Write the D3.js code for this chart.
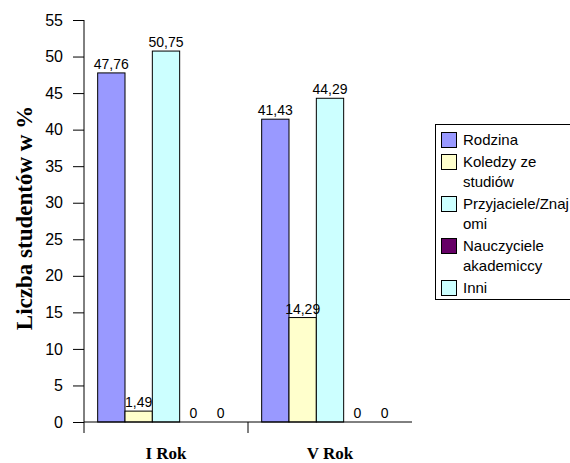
<!DOCTYPE html>
<html>
<head>
<meta charset="utf-8">
<script src="https://cdn.jsdelivr.net/npm/d3@7/dist/d3.min.js"></script>
<style>
  html, body { margin: 0; padding: 0; background: #fff; overflow: hidden; }
  svg { display: block; }
</style>
</head>
<body>
<svg id="chart" width="570" height="463"></svg>
<script>
// ---- data ----
const categories = ["I Rok", "V Rok"];
const seriesNames = ["Rodzina", "Koledzy ze studiów", "Przyjaciele/Znajomi", "Nauczyciele akademiccy", "Inni"];
const legendLines = [["Rodzina"], ["Koledzy ze", "studiów"], ["Przyjaciele/Znaj", "omi"], ["Nauczyciele", "akademiccy"], ["Inni"]];
const valuesRodzina = [47.76, 41.43];
const valuesKoledzy = [1.49, 14.29];
const valuesPrzyjaciele = [50.75, 44.29];
const valuesNauczyciele = [0, 0];
const valuesInni = [0, 0];
const seriesColors = ["#9999FF", "#FFFFCC", "#CCFFFF", "#660066", "#CCFFFF"];
const yTicks = [0, 5, 10, 15, 20, 25, 30, 35, 40, 45, 50, 55];
const labelTexts = [["47,76", "41,43"], ["1,49", "14,29"], ["50,75", "44,29"], ["0", "0"], ["0", "0"]];

const seriesValues = [valuesRodzina, valuesKoledzy, valuesPrzyjaciele, valuesNauczyciele, valuesInni];

// ---- layout ----
const svg = d3.select("#chart");
const plot = { left: 84, right: 412, top: 20, bottom: 422 };

const x0 = d3.scaleBand().domain(categories).range([plot.left, plot.right]).paddingInner(0).paddingOuter(0);
const x1 = d3.scaleBand().domain(d3.range(seriesNames.length)).range([0, x0.bandwidth()])
  .paddingInner(0).paddingOuter(0.5);
const y = d3.scaleLinear().domain([0, 55]).range([plot.bottom, plot.top]);

// bars
const rows = [];
seriesNames.forEach((s, si) => {
  categories.forEach((c, ci) => {
    rows.push({ si, ci, c, v: seriesValues[si][ci], label: labelTexts[si][ci] });
  });
});

svg.append("g").selectAll("rect")
  .data(rows.filter(d => d.v > 0))
  .join("rect")
  .attr("x", d => x0(d.c) + x1(d.si))
  .attr("y", d => y(d.v))
  .attr("width", x1.bandwidth())
  .attr("height", d => y(0) - y(d.v))
  .attr("fill", d => seriesColors[d.si])
  .attr("stroke", "#000")
  .attr("stroke-width", 1);

// data labels
svg.append("g").selectAll("text")
  .data(rows)
  .join("text")
  .attr("x", d => x0(d.c) + x1(d.si) + x1.bandwidth() / 2)
  .attr("y", d => y(d.v) - 4)
  .attr("text-anchor", "middle")
  .attr("font-family", "Liberation Sans, Arial, sans-serif")
  .attr("font-size", "14px")
  .attr("fill", "#000")
  .text(d => d.label);

// y axis
const yAxis = svg.append("g")
  .attr("transform", `translate(${plot.left},0)`)
  .call(d3.axisLeft(y).tickValues(yTicks).tickSize(11).tickSizeOuter(0).tickPadding(10));
yAxis.select(".domain").remove();
yAxis.selectAll(".tick line").attr("stroke", "#000");
yAxis.selectAll(".tick text")
  .attr("font-family", "Liberation Sans, Arial, sans-serif")
  .attr("font-size", "16px")
  .attr("fill", "#000");
svg.append("line")
  .attr("x1", plot.left).attr("x2", plot.left)
  .attr("y1", y(55)).attr("y2", y(0) + 11)
  .attr("stroke", "#000");

// x axis
svg.append("line")
  .attr("x1", plot.left).attr("x2", plot.right)
  .attr("y1", y(0)).attr("y2", y(0))
  .attr("stroke", "#000");
svg.append("g").selectAll("line")
  .data(categories.slice(1))
  .join("line")
  .attr("x1", d => x0(d)).attr("x2", d => x0(d))
  .attr("y1", y(0)).attr("y2", y(0) + 11)
  .attr("stroke", "#000");
svg.append("g").selectAll("text")
  .data(categories)
  .join("text")
  .attr("x", d => x0(d) + x0.bandwidth() / 2)
  .attr("y", 459)
  .attr("text-anchor", "middle")
  .attr("font-family", "Liberation Serif, Times New Roman, serif")
  .attr("font-weight", "bold")
  .attr("font-size", "17px")
  .text(d => d);

// y axis title
svg.append("text")
  .attr("transform", `translate(32,${(103 + 333) / 2}) rotate(-90)`)
  .attr("text-anchor", "middle")
  .attr("font-family", "Liberation Serif, Times New Roman, serif")
  .attr("font-weight", "bold")
  .attr("font-size", "23px")
  .text("Liczba studentów w %");

// legend
const lg = svg.append("g");
lg.append("rect")
  .attr("x", 435.5).attr("y", 124.5).attr("width", 140).attr("height", 175)
  .attr("fill", "#fff").attr("stroke", "#000");
let cy = 140;
const lineH = 20, entryGap = 2;
legendLines.forEach((lines, i) => {
  lg.append("rect")
    .attr("x", 441.5).attr("y", cy - 7.5).attr("width", 15).attr("height", 15)
    .attr("fill", seriesColors[i]).attr("stroke", "#000");
  lines.forEach((ln, j) => {
    lg.append("text")
      .attr("x", 463).attr("y", cy + j * lineH)
      .attr("dy", "0.35em")
      .attr("font-family", "Liberation Sans, Arial, sans-serif")
      .attr("font-size", "15px")
      .text(ln);
  });
  cy += lines.length * lineH + entryGap;
});
</script>
</body>
</html>
